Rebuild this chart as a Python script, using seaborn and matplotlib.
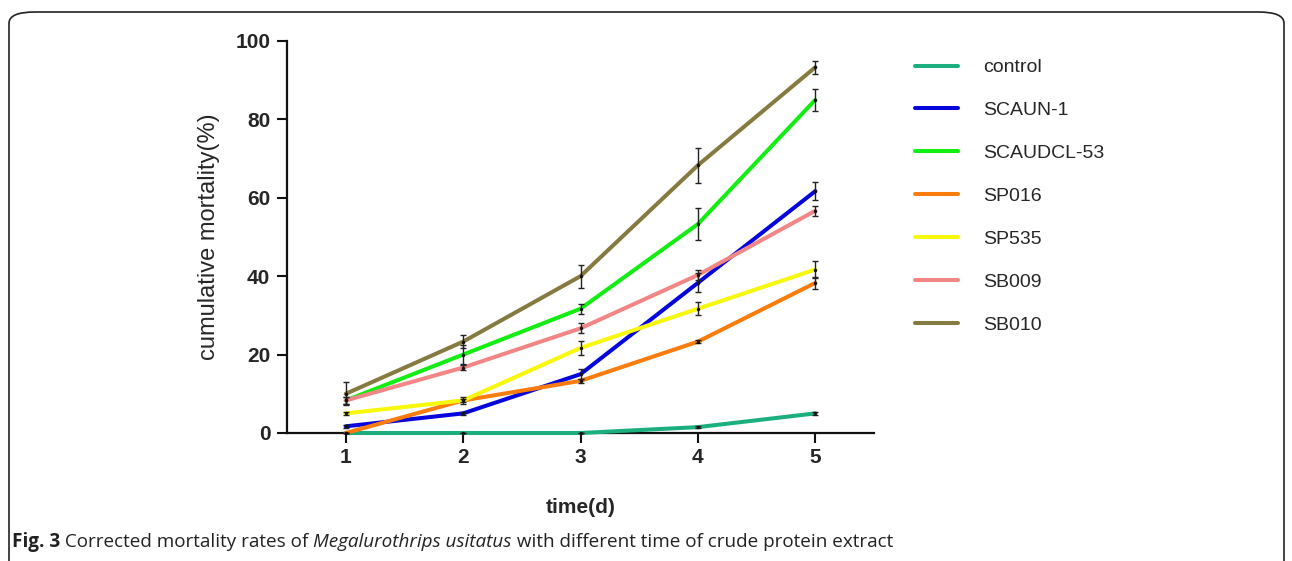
import numpy as np
import pandas as pd
import seaborn as sns
import matplotlib.pyplot as plt
from matplotlib.patches import FancyBboxPatch
from matplotlib.lines import Line2D

# data
days = [1, 2, 3, 4, 5]
groups = ['control', 'SCAUN-1', 'SCAUDCL-53', 'SP016', 'SP535', 'SB009', 'SB010']

control = [0.0, 0.0, 0.0, 1.5, 5.0]
scaun1 = [1.7, 5.0, 15.0, 38.3, 61.7]
scaudcl53 = [8.3, 20.0, 31.7, 53.3, 85.0]
sp016 = [0.0, 8.3, 13.3, 23.3, 38.3]
sp535 = [5.0, 8.3, 21.7, 31.7, 41.7]
sb009 = [8.3, 16.7, 26.7, 40.3, 56.7]
sb010 = [10.0, 23.3, 40.0, 68.3, 93.3]

control_err = [0.0, 0.0, 0.0, 0.3, 0.3]
scaun1_err = [0.4, 0.4, 1.3, 2.4, 2.3]
scaudcl53_err = [1.0, 2.5, 1.3, 4.0, 2.8]
sp016_err = [0.0, 0.4, 0.6, 0.4, 1.5]
sp535_err = [0.4, 0.8, 1.8, 1.7, 2.2]
sb009_err = [1.0, 0.7, 1.3, 1.3, 1.3]
sb010_err = [2.9, 1.6, 2.9, 4.5, 1.7]

colors = ['#1BAE7E', '#0505DC', '#12EE12', '#F97C0C', '#F8F80A', '#F28585', '#857A40']

means = [control, scaun1, scaudcl53, sp016, sp535, sb009, sb010]
errs = [control_err, scaun1_err, scaudcl53_err, sp016_err, sp535_err, sb009_err, sb010_err]

rows = []
for g, m, e in zip(groups, means, errs):
    for d, v, s in zip(days, m, e):
        rows.append({'day': d, 'mortality': v, 'err': s, 'group': g})
df = pd.DataFrame(rows)

sns.set_style('ticks')
plt.rcParams['font.family'] = ['Liberation Sans', 'DejaVu Sans']

fig = plt.figure(figsize=(12.92, 5.61), dpi=100)
ax = fig.add_axes([287/1292, 1-433/561, (874-287)/1292, (433-41)/561])

pal = dict(zip(groups, colors))
sns.lineplot(data=df, x='day', y='mortality', hue='group', palette=pal,
             linewidth=2.9, ax=ax, legend=False, clip_on=False, zorder=3)

# error bars and small point markers
for g in groups:
    sub = df[df['group'] == g]
    ax.errorbar(sub['day'], sub['mortality'], yerr=sub['err'], fmt='none',
                ecolor='#222222', elinewidth=1.0, capsize=2.5, capthick=1.0,
                zorder=4, clip_on=False)
    ax.scatter(sub['day'], sub['mortality'], s=6, color='#111111', zorder=5,
               clip_on=False, linewidths=0)

ax.set_xlim(0.5, 5.5)
ax.set_ylim(0, 100)
ax.set_xticks(days)
ax.set_yticks([0, 20, 40, 60, 80, 100])
sns.despine(ax=ax)
for sp in ['left', 'bottom']:
    ax.spines[sp].set_linewidth(1.6)
    ax.spines[sp].set_color('#111111')
ax.tick_params(axis='both', length=7, width=1.5, color='#111111')
ax.tick_params(axis='y', pad=5)
ax.tick_params(axis='x', pad=4)
for lab in ax.get_yticklabels():
    lab.set_fontweight('bold')
    lab.set_fontsize(15)
for lab in ax.get_xticklabels():
    lab.set_fontweight('bold')
    lab.set_fontsize(15)

ax.set_xlabel('time(d)', fontsize=15, fontweight='bold', labelpad=22)
ax.set_ylabel('cumulative mortality(%)', fontsize=17, labelpad=11)

# legend
handles = [Line2D([0], [0], color=c, lw=2.9) for c in colors]
fig.legend(handles, groups, loc='upper left', bbox_to_anchor=(905/1292, 1-49/561),
           frameon=False, fontsize=14, handlelength=2.2, handletextpad=1.3,
           labelspacing=1.3, borderpad=0)

# rounded frame around the figure
frame = FancyBboxPatch((9/1292, -0.1), (1284-9)/1292, 0.1 + 1-12/561,
                       boxstyle='round,pad=0,rounding_size=0.02',
                       transform=fig.transFigure, fill=False,
                       edgecolor='#222222', linewidth=1.2, clip_on=False)
fig.patches.append(frame)

# caption with mixed styles
cap_parts = [('Fig. 3', 'bold', 'normal'),
             (' Corrected mortality rates of ', 'normal', 'normal'),
             ('Megalurothrips usitatus', 'normal', 'italic'),
             (' with different time of crude protein extract', 'normal', 'normal')]
renderer = fig.canvas.get_renderer()
xpos = 12/1292
ypos = 1-547/561
for txt, wt, st in cap_parts:
    t = fig.text(xpos, ypos, txt, fontsize=13.6, fontweight=wt, fontstyle=st,
                 family=['Open Sans', 'DejaVu Sans'], color='#222222',
                 ha='left', va='baseline')
    bb = t.get_window_extent(renderer=renderer)
    xpos = bb.x1 / fig.bbox.width

fig.savefig('out.png', dpi=100)
